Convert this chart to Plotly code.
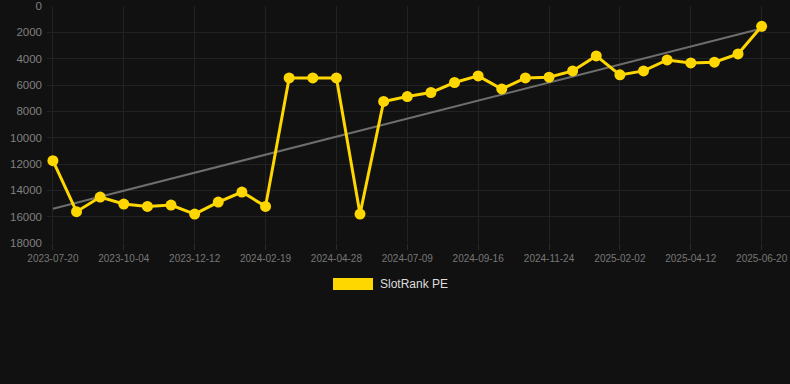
import numpy as np
import plotly.graph_objects as go

dates = [
    "2023-07-20", "2023-08-14", "2023-09-08", "2023-10-04", "2023-10-27",
    "2023-11-19", "2023-12-12", "2024-01-04", "2024-01-27", "2024-02-19",
    "2024-03-13", "2024-04-05", "2024-04-28", "2024-05-22", "2024-06-15",
    "2024-07-09", "2024-08-01", "2024-08-24", "2024-09-16", "2024-10-09",
    "2024-11-01", "2024-11-24", "2024-12-17", "2025-01-09", "2025-02-02",
    "2025-02-25", "2025-03-20", "2025-04-12", "2025-05-05", "2025-05-28",
    "2025-06-20",
]
rank_values = [
    11750, 15620, 14510, 15040, 15220, 15120, 15800, 14890, 14130, 15220,
    5460, 5460, 5460, 15800, 7250, 6880, 6570, 5810, 5310, 6300,
    5460, 5410, 4930, 3790, 5230, 4930, 4100, 4320, 4270, 3640,
    1540,
]
tick_labels = [
    "2023-07-20", "2023-10-04", "2023-12-12", "2024-02-19", "2024-04-28",
    "2024-07-09", "2024-09-16", "2024-11-24", "2025-02-02", "2025-04-12",
    "2025-06-20",
]
y_ticks = [0, 2000, 4000, 6000, 8000, 10000, 12000, 14000, 16000, 18000]
series_name = "SlotRank PE"

idx = np.arange(len(dates))
slope, intercept = np.polyfit(idx, rank_values, 1)
trend = slope * idx + intercept

fig = go.Figure()
fig.add_trace(go.Scatter(
    x=dates, y=trend, mode="lines",
    line=dict(color="#6e6e6e", width=2),
    showlegend=False, hoverinfo="skip",
))
fig.add_trace(go.Scatter(
    x=dates, y=rank_values, mode="lines+markers",
    name=series_name,
    line=dict(color="#FFD700", width=3),
    marker=dict(color="#FFD700", size=11),
    showlegend=False,
))

fig.update_layout(
    width=790, height=384,
    paper_bgcolor="#111111", plot_bgcolor="#111111",
    margin=dict(l=47, r=0, t=6, b=141),
    font=dict(family="Liberation Sans, Arial, sans-serif"),
    showlegend=False,
    xaxis=dict(
        type="category",
        categoryorder="array", categoryarray=dates,
        range=[-0.25, 31.2],
        tickmode="array", tickvals=tick_labels, ticktext=tick_labels,
        tickfont=dict(size=10, color="#777777"),
        showgrid=True, gridcolor="#222222", gridwidth=1,
        ticks="outside", ticklen=6, tickcolor="#2a2a2a",
        zeroline=False, showline=False,
    ),
    yaxis=dict(
        range=[18000, 0],
        tickvals=y_ticks,
        tickformat="d",
        tickfont=dict(size=11.5, color="#808080"),
        showgrid=True, gridcolor="#222222", gridwidth=1,
        zeroline=False, showline=False, ticks="",
        ticklabelstandoff=4,
    ),
)

# legend drawn manually (wide colour swatch + label)
fig.add_shape(type="rect", xref="paper", yref="paper",
              x0=(333 - 47) / 743, x1=(373 - 47) / 743,
              y0=(384 - 141 - 290) / 237, y1=(384 - 141 - 278) / 237,
              fillcolor="#FFD700", line=dict(width=0))
fig.add_annotation(xref="paper", yref="paper",
                   x=(378 - 47) / 743, y=(384 - 141 - 284) / 237,
                   text=series_name, showarrow=False,
                   xanchor="left", yanchor="middle",
                   font=dict(size=12, color="#dddddd"))

fig.write_html(
    "out.html",
    config={"displayModeBar": False},
    post_script="document.body.style.margin='0';document.body.style.padding='0';"
                "document.body.style.background='#111111';"
                "document.documentElement.style.overflow='hidden';",
)
